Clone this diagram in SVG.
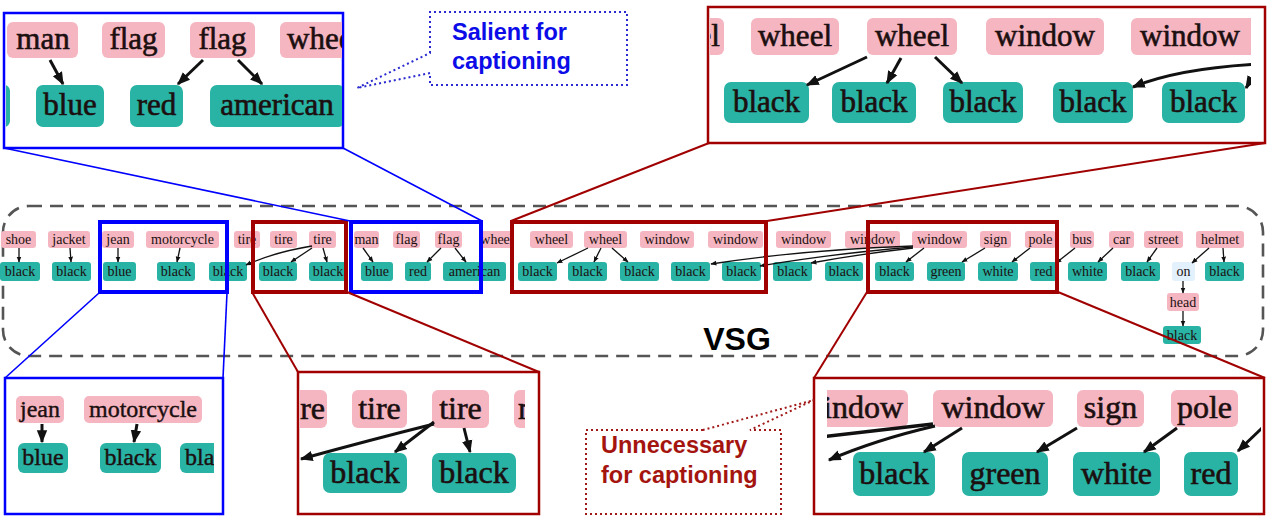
<svg xmlns="http://www.w3.org/2000/svg" width="1268" height="527" viewBox="0 0 1268 527">
<style>
.p{fill:#f5b6c1}
.t{fill:#28b3a4}
.o{fill:#e2f1fb}
.s{font-family:"Liberation Serif",serif;font-size:14px;fill:#1c0f10;text-anchor:middle}
.a{font-size:31px;stroke:#1c0f10;stroke-width:0.6}
.b{font-size:24px;stroke:#1c0f10;stroke-width:0.4}
.c{font-size:32px;stroke:#1c0f10;stroke-width:0.6}
.e{stroke:#111;stroke-width:1.3;fill:none;marker-end:url(#ah)}
.E{stroke:#111;stroke-width:3;fill:none;marker-end:url(#ahL)}
.hb{fill:none;stroke:#0000ff;stroke-width:4}
.hr{fill:none;stroke:#a00000;stroke-width:4}
.cb{fill:#fff;stroke:#0000ff;stroke-width:2.5}
.cr{fill:#fff;stroke:#a00000;stroke-width:2.5}
.lb{stroke:#0000ff;stroke-width:1.6}
.lr{stroke:#a00000;stroke-width:2}
.note{font-family:"Liberation Sans",Arial,sans-serif;font-weight:bold;font-size:23.5px}
</style>
<defs>
<marker id="ah" viewBox="0 0 10 10" refX="9" refY="5" markerWidth="6" markerHeight="6" orient="auto" markerUnits="userSpaceOnUse"><path d="M0,1 L10,5 L0,9 Z" fill="#111"/></marker>
<marker id="ahL" viewBox="0 0 10 10" refX="9" refY="5" markerWidth="13" markerHeight="13" orient="auto" markerUnits="userSpaceOnUse"><path d="M0,1 L10,5 L0,9 Z" fill="#111"/></marker>
<clipPath id="k1"><rect x="6" y="15" width="336" height="131"/></clipPath>
<clipPath id="k2"><rect x="710" y="9" width="541" height="132"/></clipPath>
<clipPath id="k3"><rect x="7" y="380" width="207" height="132"/></clipPath>
<clipPath id="k4"><rect x="300" y="374" width="225" height="138"/></clipPath>
<clipPath id="k5"><rect x="827" y="380" width="434" height="132"/></clipPath>
</defs>
<rect width="1268" height="527" fill="#fff"/>

<!-- VSG frame -->
<g id="vsg-frame">
<rect x="3" y="206" width="1260" height="150" rx="26" fill="none" stroke="#555" stroke-width="2.6" stroke-dasharray="13 8"/>
<text x="737" y="350" style="font-family:'Liberation Sans',Arial,sans-serif;font-weight:bold;font-size:32px;text-anchor:middle" fill="#000">VSG</text>
</g>

<!-- main strip nodes: pink row -->
<g id="n-shoe"><rect class="p" x="1" y="231" width="35" height="17" rx="3"/><text class="s" x="18.5" y="244">shoe</text></g>
<g id="n-jacket"><rect class="p" x="48" y="231" width="42" height="17" rx="3"/><text class="s" x="69" y="244">jacket</text></g>
<g id="n-jean"><rect class="p" x="102" y="231" width="32" height="17" rx="3"/><text class="s" x="118" y="244">jean</text></g>
<g id="n-motorcycle"><rect class="p" x="146" y="231" width="73" height="17" rx="3"/><text class="s" x="182.5" y="244">motorcycle</text></g>
<g id="n-tire1"><rect class="p" x="234" y="231" width="26" height="17" rx="3"/><text class="s" x="247" y="244">tire</text></g>
<g id="n-tire2"><rect class="p" x="270" y="231" width="27" height="17" rx="3"/><text class="s" x="283.5" y="244">tire</text></g>
<g id="n-tire3"><rect class="p" x="309" y="231" width="27" height="17" rx="3"/><text class="s" x="322.5" y="244">tire</text></g>
<g id="n-man"><rect class="p" x="354" y="231" width="25" height="17" rx="3"/><text class="s" x="366.5" y="244">man</text></g>
<g id="n-flag1"><rect class="p" x="393" y="231" width="27" height="17" rx="3"/><text class="s" x="406.5" y="244">flag</text></g>
<g id="n-flag2"><rect class="p" x="435" y="231" width="27" height="17" rx="3"/><text class="s" x="448.5" y="244">flag</text></g>
<g id="n-wheel1"><rect class="p" x="480" y="231" width="34" height="17" rx="3"/><text class="s" x="497" y="244">wheel</text></g>
<g id="n-wheel2"><rect class="p" x="530" y="231" width="43" height="17" rx="3"/><text class="s" x="551.5" y="244">wheel</text></g>
<g id="n-wheel3"><rect class="p" x="584" y="231" width="43" height="17" rx="3"/><text class="s" x="605.5" y="244">wheel</text></g>
<g id="n-window1"><rect class="p" x="640" y="231" width="54" height="17" rx="3"/><text class="s" x="667" y="244">window</text></g>
<g id="n-window2"><rect class="p" x="708" y="231" width="55" height="17" rx="3"/><text class="s" x="735.5" y="244">window</text></g>
<g id="n-window3"><rect class="p" x="776" y="231" width="55" height="17" rx="3"/><text class="s" x="803.5" y="244">window</text></g>
<g id="n-window4"><rect class="p" x="845" y="231" width="55" height="17" rx="3"/><text class="s" x="872.5" y="244">window</text></g>
<g id="n-window5"><rect class="p" x="912" y="231" width="55" height="17" rx="3"/><text class="s" x="939.5" y="244">window</text></g>
<g id="n-sign"><rect class="p" x="980" y="231" width="31" height="17" rx="3"/><text class="s" x="995.5" y="244">sign</text></g>
<g id="n-pole"><rect class="p" x="1025" y="231" width="31" height="17" rx="3"/><text class="s" x="1040.5" y="244">pole</text></g>
<g id="n-bus"><rect class="p" x="1070" y="231" width="24" height="17" rx="3"/><text class="s" x="1082" y="244">bus</text></g>
<g id="n-car"><rect class="p" x="1109" y="231" width="25" height="17" rx="3"/><text class="s" x="1121.5" y="244">car</text></g>
<g id="n-street"><rect class="p" x="1144" y="231" width="39" height="17" rx="3"/><text class="s" x="1163.5" y="244">street</text></g>
<g id="n-helmet"><rect class="p" x="1196" y="231" width="48" height="17" rx="3"/><text class="s" x="1220" y="244">helmet</text></g>
<g id="n-head"><rect class="p" x="1167" y="293" width="32" height="18" rx="3"/><text class="s" x="1183" y="306.5">head</text></g>

<!-- main strip nodes: teal row -->
<g id="a-black1"><rect class="t" x="0" y="262" width="40" height="19" rx="3"/><text class="s" x="20" y="276">black</text></g>
<g id="a-black2"><rect class="t" x="52" y="262" width="39" height="19" rx="3"/><text class="s" x="71.5" y="276">black</text></g>
<g id="a-blue1"><rect class="t" x="103" y="262" width="33" height="19" rx="3"/><text class="s" x="119.5" y="276">blue</text></g>
<g id="a-black3"><rect class="t" x="157" y="262" width="38" height="19" rx="3"/><text class="s" x="176" y="276">black</text></g>
<g id="a-black4"><rect class="t" x="209" y="262" width="38" height="19" rx="3"/><text class="s" x="228" y="276">black</text></g>
<g id="a-black5"><rect class="t" x="259" y="262" width="38" height="19" rx="3"/><text class="s" x="278" y="276">black</text></g>
<g id="a-black6"><rect class="t" x="309" y="262" width="38" height="19" rx="3"/><text class="s" x="328" y="276">black</text></g>
<g id="a-blue2"><rect class="t" x="361" y="262" width="32" height="19" rx="3"/><text class="s" x="377" y="276">blue</text></g>
<g id="a-red1"><rect class="t" x="405" y="262" width="26" height="19" rx="3"/><text class="s" x="418" y="276">red</text></g>
<g id="a-american"><rect class="t" x="443" y="262" width="63" height="19" rx="3"/><text class="s" x="474.5" y="276">american</text></g>
<g id="a-black7"><rect class="t" x="518" y="262" width="39" height="19" rx="3"/><text class="s" x="537.5" y="276">black</text></g>
<g id="a-black8"><rect class="t" x="568" y="262" width="39" height="19" rx="3"/><text class="s" x="587.5" y="276">black</text></g>
<g id="a-black9"><rect class="t" x="620" y="262" width="39" height="19" rx="3"/><text class="s" x="639.5" y="276">black</text></g>
<g id="a-black10"><rect class="t" x="671" y="262" width="39" height="19" rx="3"/><text class="s" x="690.5" y="276">black</text></g>
<g id="a-black11"><rect class="t" x="722" y="262" width="39" height="19" rx="3"/><text class="s" x="741.5" y="276">black</text></g>
<g id="a-black12"><rect class="t" x="773" y="262" width="39" height="19" rx="3"/><text class="s" x="792.5" y="276">black</text></g>
<g id="a-black13"><rect class="t" x="825" y="262" width="38" height="19" rx="3"/><text class="s" x="844" y="276">black</text></g>
<g id="a-black14"><rect class="t" x="875" y="262" width="39" height="19" rx="3"/><text class="s" x="894.5" y="276">black</text></g>
<g id="a-green"><rect class="t" x="927" y="262" width="38" height="19" rx="3"/><text class="s" x="946" y="276">green</text></g>
<g id="a-white1"><rect class="t" x="978" y="262" width="40" height="19" rx="3"/><text class="s" x="998" y="276">white</text></g>
<g id="a-red2"><rect class="t" x="1030" y="262" width="27" height="19" rx="3"/><text class="s" x="1043.5" y="276">red</text></g>
<g id="a-white2"><rect class="t" x="1068" y="262" width="39" height="19" rx="3"/><text class="s" x="1087.5" y="276">white</text></g>
<g id="a-black15"><rect class="t" x="1121" y="262" width="39" height="19" rx="3"/><text class="s" x="1140.5" y="276">black</text></g>
<g id="r-on"><rect class="o" x="1172" y="262" width="23" height="19" rx="3"/><text class="s" x="1183.5" y="276">on</text></g>
<g id="a-black16"><rect class="t" x="1205" y="262" width="39" height="19" rx="3"/><text class="s" x="1224.5" y="276">black</text></g>
<g id="a-black17"><rect class="t" x="1163" y="326" width="38" height="18" rx="3"/><text class="s" x="1182" y="339.5">black</text></g>

<!-- main strip connectors -->
<g id="edges">
<path class="e" d="M19,248 L19,262"/>
<path class="e" d="M70,248 L71,262"/>
<path class="e" d="M118,248 L118,262"/>
<path class="e" d="M180,248 L177,262"/>
<path class="e" d="M312,248 L291,262"/>
<path class="e" d="M312,246 Q275,252 246,265"/>
<path class="e" d="M323,248 L327,262"/>
<path class="e" d="M363,248 L373,262"/>
<path class="e" d="M441,248 L427,262"/>
<path class="e" d="M455,248 L466,262"/>
<path class="e" d="M588,248 L557,263"/>
<path class="e" d="M601,248 L594,262"/>
<path class="e" d="M612,248 L628,262"/>
<path class="e" d="M913,246 Q800,250 711,264"/>
<path class="e" d="M913,247 Q830,254 760,266"/>
<path class="e" d="M913,248 Q860,254 811,263"/>
<path class="e" d="M924,248 L906,262"/>
<path class="e" d="M985,248 L962,262"/>
<path class="e" d="M1030,248 L1012,262"/>
<path class="e" d="M1075,248 L1056,263"/>
<path class="e" d="M1113,248 L1098,262"/>
<path class="e" d="M1157,248 L1147,262"/>
<path class="e" d="M1209,248 L1192,263"/>
<path class="e" d="M1223,248 L1224,262"/>
<path class="e" d="M1183,281 L1183,293"/>
<path class="e" d="M1183,311 L1183,326"/>
</g>

<!-- highlight boxes -->
<g id="highlights">
<rect class="hb" x="100" y="222" width="127" height="70"/>
<rect class="hr" x="253" y="222" width="93" height="70"/>
<rect class="hb" x="351" y="222" width="130" height="70"/>
<rect class="hr" x="512" y="222" width="254" height="70"/>
<rect class="hr" x="868" y="222" width="189" height="70"/>
</g>

<!-- leader lines -->
<g id="leaders">
<line class="lb" x1="4" y1="148" x2="350" y2="221"/>
<line class="lb" x1="343" y1="148" x2="482" y2="221"/>
<line class="lb" x1="99" y1="293" x2="5" y2="378"/>
<line class="lb" x1="227" y1="293" x2="223" y2="378"/>
<line class="lr" x1="709" y1="143" x2="511" y2="221"/>
<line class="lr" x1="1265" y1="143" x2="767" y2="221"/>
<line class="lr" x1="252" y1="292" x2="298" y2="372"/>
<line class="lr" x1="347" y1="292" x2="539" y2="372"/>
<line class="lr" x1="867" y1="292" x2="814" y2="378"/>
<line class="lr" x1="1058" y1="292" x2="1265" y2="378"/>
</g>

<!-- callout top-left (salient) -->
<g id="callout-tl">
<rect class="cb" x="4" y="13" width="339" height="135"/>
<g clip-path="url(#k1)">
<g id="tl-man"><rect class="p" x="7" y="22" width="71" height="36" rx="6"/><text class="s a" x="43" y="49">man</text></g>
<g id="tl-flag1"><rect class="p" x="102" y="22" width="63" height="36" rx="6"/><text class="s a" x="133.5" y="49">flag</text></g>
<g id="tl-flag2"><rect class="p" x="190" y="22" width="65" height="36" rx="6"/><text class="s a" x="222.5" y="49">flag</text></g>
<g id="tl-wheel"><rect class="p" x="280" y="22" width="90" height="36" rx="6"/><text class="s a" x="287" y="49" style="text-anchor:start">wheel</text></g>
<g id="tl-edge"><rect class="t" x="-20" y="85" width="30" height="42" rx="6"/></g>
<g id="tl-blue"><rect class="t" x="36" y="85" width="68" height="42" rx="7"/><text class="s a" x="70" y="115">blue</text></g>
<g id="tl-red"><rect class="t" x="130" y="85" width="53" height="42" rx="7"/><text class="s a" x="156.5" y="115">red</text></g>
<g id="tl-american"><rect class="t" x="210" y="85" width="135" height="42" rx="7"/><text class="s a" x="277" y="115">american</text></g>
<path class="E" d="M50,60 L63,84"/>
<path class="E" d="M203,60 L178,84"/>
<path class="E" d="M238,60 L262,84"/>
</g>
</g>

<!-- callout top-right -->
<g id="callout-tr">
<rect class="cr" x="708" y="7" width="557" height="136"/>
<g clip-path="url(#k2)">
<g id="tr-wheel0"><rect class="p" x="690" y="18" width="34" height="37" rx="6"/><text class="s a" x="720" y="46" style="text-anchor:end">wheel</text></g>
<g id="tr-wheel1"><rect class="p" x="751" y="18" width="88" height="37" rx="6"/><text class="s a" x="795" y="46">wheel</text></g>
<g id="tr-wheel2"><rect class="p" x="867" y="18" width="90" height="37" rx="6"/><text class="s a" x="912" y="46">wheel</text></g>
<g id="tr-window1"><rect class="p" x="986" y="18" width="118" height="37" rx="6"/><text class="s a" x="1045" y="46">window</text></g>
<g id="tr-window2"><rect class="p" x="1131" y="18" width="130" height="37" rx="6"/><text class="s a" x="1190" y="46">window</text></g>
<g id="tr-black1"><rect class="t" x="724" y="82" width="85" height="41" rx="7"/><text class="s a" x="766.5" y="112">black</text></g>
<g id="tr-black2"><rect class="t" x="832" y="82" width="84" height="41" rx="7"/><text class="s a" x="874" y="112">black</text></g>
<g id="tr-black3"><rect class="t" x="943" y="82" width="80" height="41" rx="7"/><text class="s a" x="983" y="112">black</text></g>
<g id="tr-black4"><rect class="t" x="1053" y="82" width="80" height="41" rx="7"/><text class="s a" x="1093" y="112">black</text></g>
<g id="tr-black5"><rect class="t" x="1162" y="82" width="83" height="41" rx="7"/><text class="s a" x="1203.5" y="112">black</text></g>
<path class="E" d="M867,57 L807,85"/>
<path class="E" d="M901,58 L887,83"/>
<path class="E" d="M935,57 L962,83"/>
<path class="E" d="M1262,64 Q1180,68 1133,87"/>
<path class="E" d="M1262,74 Q1252,78 1246,88"/>
</g>
</g>

<!-- callout bottom-left -->
<g id="callout-bl">
<rect class="cb" x="5" y="378" width="218" height="136"/>
<g clip-path="url(#k3)">
<g id="bl-jean"><rect class="p" x="16" y="396" width="48" height="27" rx="5"/><text class="s b" x="40" y="417">jean</text></g>
<g id="bl-motorcycle"><rect class="p" x="84" y="396" width="118" height="27" rx="5"/><text class="s b" x="143" y="417">motorcycle</text></g>
<g id="bl-blue"><rect class="t" x="18" y="443" width="50" height="30" rx="6"/><text class="s b" x="43" y="465">blue</text></g>
<g id="bl-black"><rect class="t" x="100" y="443" width="61" height="30" rx="6"/><text class="s b" x="130.5" y="465">black</text></g>
<g id="bl-black2"><rect class="t" x="180" y="443" width="60" height="30" rx="6"/><text class="s b" x="185" y="465" style="text-anchor:start">black</text></g>
<path class="E" d="M42,424 L42,442"/>
<path class="E" d="M137,424 L134,442"/>
</g>
</g>

<!-- callout bottom-middle -->
<g id="callout-bm">
<rect class="cr" x="298" y="372" width="241" height="142"/>
<g clip-path="url(#k4)">
<g id="bm-tire1"><rect class="p" x="280" y="390" width="47" height="38" rx="6"/><text class="s c" x="325" y="419" style="text-anchor:end">tire</text></g>
<g id="bm-tire2"><rect class="p" x="352" y="390" width="55" height="38" rx="6"/><text class="s c" x="379.5" y="419">tire</text></g>
<g id="bm-tire3"><rect class="p" x="432" y="390" width="57" height="38" rx="6"/><text class="s c" x="460.5" y="419">tire</text></g>
<g id="bm-man"><rect class="p" x="514" y="390" width="40" height="38" rx="6"/><text class="s c" x="518" y="419" style="text-anchor:start">man</text></g>
<g id="bm-black1"><rect class="t" x="323" y="453" width="84" height="40" rx="7"/><text class="s c" x="365" y="483">black</text></g>
<g id="bm-black2"><rect class="t" x="432" y="453" width="84" height="40" rx="7"/><text class="s c" x="474" y="483">black</text></g>
<path class="E" d="M434,422 L395,452"/>
<path class="E" d="M464,428 L470,452"/>
<path class="E" d="M434,424 Q370,440 301,459"/>
</g>
</g>

<!-- callout bottom-right -->
<g id="callout-br">
<rect class="cr" x="814" y="378" width="450" height="136"/>
<g clip-path="url(#k5)">
<g id="br-window0"><rect class="p" x="800" y="390" width="108" height="37" rx="6"/><text class="s c" x="903" y="418" style="text-anchor:end">window</text></g>
<g id="br-window"><rect class="p" x="933" y="390" width="120" height="37" rx="6"/><text class="s c" x="993" y="418">window</text></g>
<g id="br-sign"><rect class="p" x="1077" y="390" width="67" height="37" rx="6"/><text class="s c" x="1110.5" y="418">sign</text></g>
<g id="br-pole"><rect class="p" x="1171" y="390" width="67" height="37" rx="6"/><text class="s c" x="1204.5" y="418">pole</text></g>
<g id="br-black"><rect class="t" x="853" y="452" width="82" height="44" rx="7"/><text class="s c" x="894" y="484">black</text></g>
<g id="br-green"><rect class="t" x="962" y="452" width="86" height="44" rx="7"/><text class="s c" x="1005" y="484">green</text></g>
<g id="br-white"><rect class="t" x="1073" y="452" width="87" height="44" rx="7"/><text class="s c" x="1116.5" y="484">white</text></g>
<g id="br-red"><rect class="t" x="1184" y="452" width="54" height="44" rx="7"/><text class="s c" x="1211" y="484">red</text></g>
<path class="E" d="M962,428 L924,452"/>
<path class="E" d="M1077,428 L1037,452"/>
<path class="E" d="M1177,428 L1144,452"/>
<path class="E" d="M1262,428 L1238,451"/>
<path d="M933,424 Q880,430 820,437" stroke="#111" stroke-width="3.5" fill="none"/>
<path class="E" d="M935,426 Q875,440 829,460"/>
</g>
</g>

<!-- annotation bubbles -->
<g id="note-salient">
<path d="M430,53 V12 H627 V85 H430 V73 L357,88 Z" fill="#fff" stroke="#2a2ad0" stroke-width="2" stroke-dasharray="2 3"/>
<text class="note" x="452" y="40" fill="#0c0ce8">Salient for</text>
<text class="note" x="452" y="69" fill="#0c0ce8">captioning</text>
</g>
<g id="note-unnecessary">
<path d="M703,430 H586 V514 H781 V430 H750 L814,400 Z" fill="#fff" stroke="#a01818" stroke-width="2" stroke-dasharray="2 3"/>
<text class="note" x="601" y="453" fill="#a5150f">Unnecessary</text>
<text class="note" x="601" y="483" fill="#a5150f">for captioning</text>
</g>
</svg>
